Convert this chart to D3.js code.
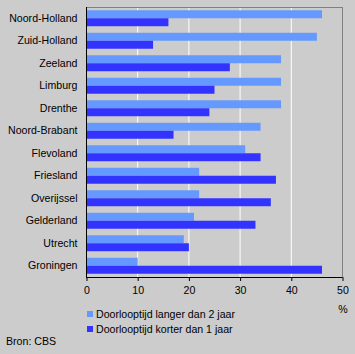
<!DOCTYPE html>
<html><head><meta charset="utf-8">
<script src="https://cdn.jsdelivr.net/npm/d3@7"></script>
<style>body{margin:0;background:#cccccc;}svg{display:block;font-family:"Liberation Sans",Arial,sans-serif;}</style>
</head><body><svg id="c" width="355" height="354"></svg>
<script>
const categories = ["Noord-Holland","Zuid-Holland","Zeeland","Limburg","Drenthe","Noord-Brabant","Flevoland","Friesland","Overijssel","Gelderland","Utrecht","Groningen"];
const langer = [46,45,38,38,38,34,31,22,22,21,19,10];
const korter = [16,13,28,25,24,17,34,37,36,33,20,46];
const seriesNames = ["Doorlooptijd langer dan 2 jaar","Doorlooptijd korter dan 1 jaar"];
const xTicks = [0,10,20,30,40,50];

const FS = 10.6;
const svg = d3.select("#c");
svg.append("rect").attr("width",355).attr("height",354).attr("fill","#cccccc");
const L=86.5, R=342.5, T=7, B=277;
const x = d3.scaleLinear().domain([0,50]).range([L,R]);
const y = d3.scaleBand().domain(categories).range([T,B]).paddingInner(0.29).paddingOuter(0.145);
const colors = ["#6699ff","#3333ff"];

// gridlines
svg.append("g").selectAll("line").data(xTicks.slice(1,-1)).join("line")
  .attr("x1",d=>x(d)).attr("x2",d=>x(d)).attr("y1",T).attr("y2",B)
  .attr("stroke","#fff").attr("stroke-width",1);
// borders
svg.append("line").attr("x1",L).attr("x2",R).attr("y1",T+0.5).attr("y2",T+0.5).attr("stroke","#808080");
svg.append("line").attr("x1",R).attr("x2",R).attr("y1",T).attr("y2",B).attr("stroke","#808080");

const h = y.bandwidth()/2;
const g = svg.append("g");
g.selectAll("rect.a").data(categories).join("rect").attr("class","a")
  .attr("x",x(0)).attr("y",d=>y(d)).attr("height",h)
  .attr("width",(d,i)=>x(langer[i])-x(0)).attr("fill",colors[0]);
g.selectAll("rect.b").data(categories).join("rect").attr("class","b")
  .attr("x",x(0)).attr("y",d=>y(d)+h).attr("height",h)
  .attr("width",(d,i)=>x(korter[i])-x(0)).attr("fill",colors[1]);

// y axis
const ya = svg.append("g").attr("transform",`translate(${L},0)`)
  .call(d3.axisLeft(y).tickSize(0).tickPadding(9));
ya.select(".domain").attr("stroke","#000").attr("d",`M0,${T}V${B+1}`);
ya.selectAll("text").attr("font-size",FS).attr("fill","#000").attr("font-family","Liberation Sans, Arial, sans-serif");

// x axis
const xa = svg.append("g").attr("transform",`translate(0,${B})`)
  .call(d3.axisBottom(x).tickValues(xTicks).tickSize(4).tickPadding(5).tickFormat(d3.format("d")));
xa.select(".domain").attr("stroke","#000").attr("d",`M${L},0.5H${R}`);
xa.selectAll("line").attr("stroke","#000");
xa.selectAll("text").attr("font-size",FS).attr("fill","#000").attr("font-family","Liberation Sans, Arial, sans-serif");

svg.append("text").attr("x",343).attr("y",313).attr("text-anchor","middle").attr("font-size",FS).text("%");

// legend
const lg = svg.append("g");
seriesNames.forEach((s,i)=>{
  lg.append("rect").attr("x",87).attr("y",311+i*15).attr("width",6).attr("height",6).attr("fill",colors[i]);
  lg.append("text").attr("x",96).attr("y",318+i*15).attr("font-size",FS).text(s);
});
svg.append("text").attr("x",6).attr("y",345).attr("font-size",FS).text("Bron: CBS");
</script></body></html>
